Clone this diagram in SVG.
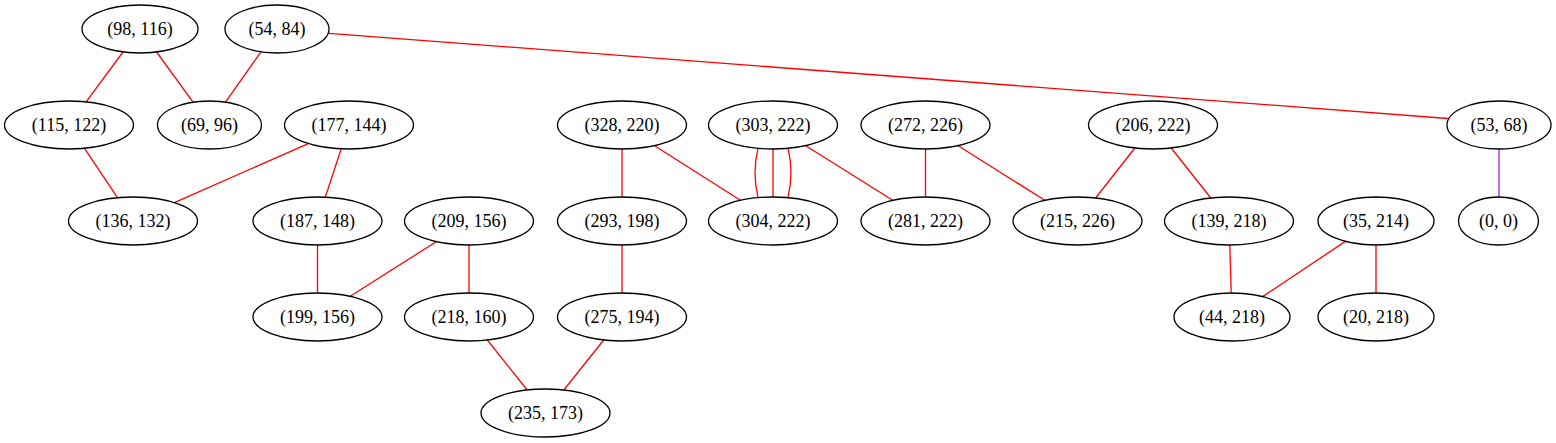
<svg xmlns="http://www.w3.org/2000/svg" width="1556" height="443" viewBox="0 0 1556 443">
<style>
.node ellipse{fill:none;stroke:#000;stroke-width:1.3}
.node text{font-family:'Liberation Serif',Tinos,'DejaVu Serif',serif;font-size:18px;fill:#000;text-anchor:middle}
.edges line,.edges path{stroke:#ff0000;stroke-width:1.3;fill:none}
.edges .purple{stroke:#a020f0}
</style>
<rect width="1556" height="443" fill="#fff"/>
<g class="edges">
<line x1="123" y1="52" x2="86.1" y2="101.9"/>
<line x1="156.6" y1="52" x2="193" y2="102.2"/>
<line x1="261" y1="51.8" x2="225.5" y2="102.2"/>
<line x1="329" y1="33.3" x2="1448" y2="118.5"/>
<line x1="84.5" y1="148.3" x2="117.5" y2="197.7"/>
<line x1="307.8" y1="143.8" x2="174.4" y2="202.6"/>
<line x1="341.2" y1="148.8" x2="325.3" y2="197.2"/>
<line x1="317.5" y1="245" x2="317.5" y2="293"/>
<line x1="436.3" y1="241.7" x2="350.2" y2="296.3"/>
<line x1="469" y1="245" x2="469" y2="293"/>
<line x1="487.3" y1="340" x2="527.2" y2="390"/>
<line x1="603.7" y1="340" x2="563.8" y2="390"/>
<line x1="622" y1="149" x2="622" y2="197"/>
<line x1="622" y1="245" x2="622" y2="293"/>
<line x1="654.6" y1="145.7" x2="740.4" y2="200.3"/>
<path d="M758,148.4 C754,165 754,181 758,197.6"/>
<line x1="773" y1="149" x2="773" y2="197"/>
<path d="M788,148.4 C792,165 792,181 788,197.6"/>
<line x1="805.8" y1="145.7" x2="892.7" y2="200.3"/>
<line x1="925.5" y1="149" x2="925.5" y2="197"/>
<line x1="958.2" y1="145.7" x2="1044.8" y2="200.3"/>
<line x1="1134.9" y1="148" x2="1095.6" y2="198"/>
<line x1="1171.2" y1="148" x2="1210.8" y2="198"/>
<line x1="1229.8" y1="245" x2="1231.2" y2="293"/>
<line x1="1345.4" y1="241.4" x2="1262.6" y2="296.6"/>
<line x1="1376" y1="245" x2="1376" y2="293"/>
<line class="purple" x1="1499" y1="149" x2="1499" y2="197"/>
</g>
<g id="n98_116" class="node"><ellipse cx="140" cy="29" rx="58" ry="24"/><text x="140" y="35">(98, 116)</text></g>
<g id="n54_84" class="node"><ellipse cx="277" cy="29" rx="52" ry="24"/><text x="277" y="35">(54, 84)</text></g>
<g id="n115_122" class="node"><ellipse cx="69" cy="125" rx="64.5" ry="24"/><text x="69" y="131">(115, 122)</text></g>
<g id="n69_96" class="node"><ellipse cx="209.5" cy="125" rx="52" ry="24"/><text x="209.5" y="131">(69, 96)</text></g>
<g id="n177_144" class="node"><ellipse cx="349" cy="125" rx="64.5" ry="24"/><text x="349" y="131">(177, 144)</text></g>
<g id="n328_220" class="node"><ellipse cx="622" cy="125" rx="64.5" ry="24"/><text x="622" y="131">(328, 220)</text></g>
<g id="n303_222" class="node"><ellipse cx="773" cy="125" rx="64.5" ry="24"/><text x="773" y="131">(303, 222)</text></g>
<g id="n272_226" class="node"><ellipse cx="925.5" cy="125" rx="64.5" ry="24"/><text x="925.5" y="131">(272, 226)</text></g>
<g id="n206_222" class="node"><ellipse cx="1153" cy="125" rx="64.5" ry="24"/><text x="1153" y="131">(206, 222)</text></g>
<g id="n53_68" class="node"><ellipse cx="1499" cy="125" rx="52" ry="24"/><text x="1499" y="131">(53, 68)</text></g>
<g id="n136_132" class="node"><ellipse cx="133" cy="221" rx="64.5" ry="24"/><text x="133" y="227">(136, 132)</text></g>
<g id="n187_148" class="node"><ellipse cx="317.5" cy="221" rx="64.5" ry="24"/><text x="317.5" y="227">(187, 148)</text></g>
<g id="n209_156" class="node"><ellipse cx="469" cy="221" rx="64.5" ry="24"/><text x="469" y="227">(209, 156)</text></g>
<g id="n293_198" class="node"><ellipse cx="622" cy="221" rx="64.5" ry="24"/><text x="622" y="227">(293, 198)</text></g>
<g id="n304_222" class="node"><ellipse cx="773" cy="221" rx="64.5" ry="24"/><text x="773" y="227">(304, 222)</text></g>
<g id="n281_222" class="node"><ellipse cx="925.5" cy="221" rx="64.5" ry="24"/><text x="925.5" y="227">(281, 222)</text></g>
<g id="n215_226" class="node"><ellipse cx="1077.5" cy="221" rx="64.5" ry="24"/><text x="1077.5" y="227">(215, 226)</text></g>
<g id="n139_218" class="node"><ellipse cx="1229" cy="221" rx="64.5" ry="24"/><text x="1229" y="227">(139, 218)</text></g>
<g id="n35_214" class="node"><ellipse cx="1376" cy="221" rx="58" ry="24"/><text x="1376" y="227">(35, 214)</text></g>
<g id="n0_0" class="node"><ellipse cx="1498.5" cy="221" rx="40" ry="24"/><text x="1498.5" y="227">(0, 0)</text></g>
<g id="n199_156" class="node"><ellipse cx="317.5" cy="317" rx="64.5" ry="24"/><text x="317.5" y="323">(199, 156)</text></g>
<g id="n218_160" class="node"><ellipse cx="469" cy="317" rx="64.5" ry="24"/><text x="469" y="323">(218, 160)</text></g>
<g id="n275_194" class="node"><ellipse cx="622" cy="317" rx="64.5" ry="24"/><text x="622" y="323">(275, 194)</text></g>
<g id="n44_218" class="node"><ellipse cx="1232" cy="317" rx="58" ry="24"/><text x="1232" y="323">(44, 218)</text></g>
<g id="n20_218" class="node"><ellipse cx="1376" cy="317" rx="58" ry="24"/><text x="1376" y="323">(20, 218)</text></g>
<g id="n235_173" class="node"><ellipse cx="545.5" cy="413" rx="64.5" ry="24"/><text x="545.5" y="419">(235, 173)</text></g>
</svg>
